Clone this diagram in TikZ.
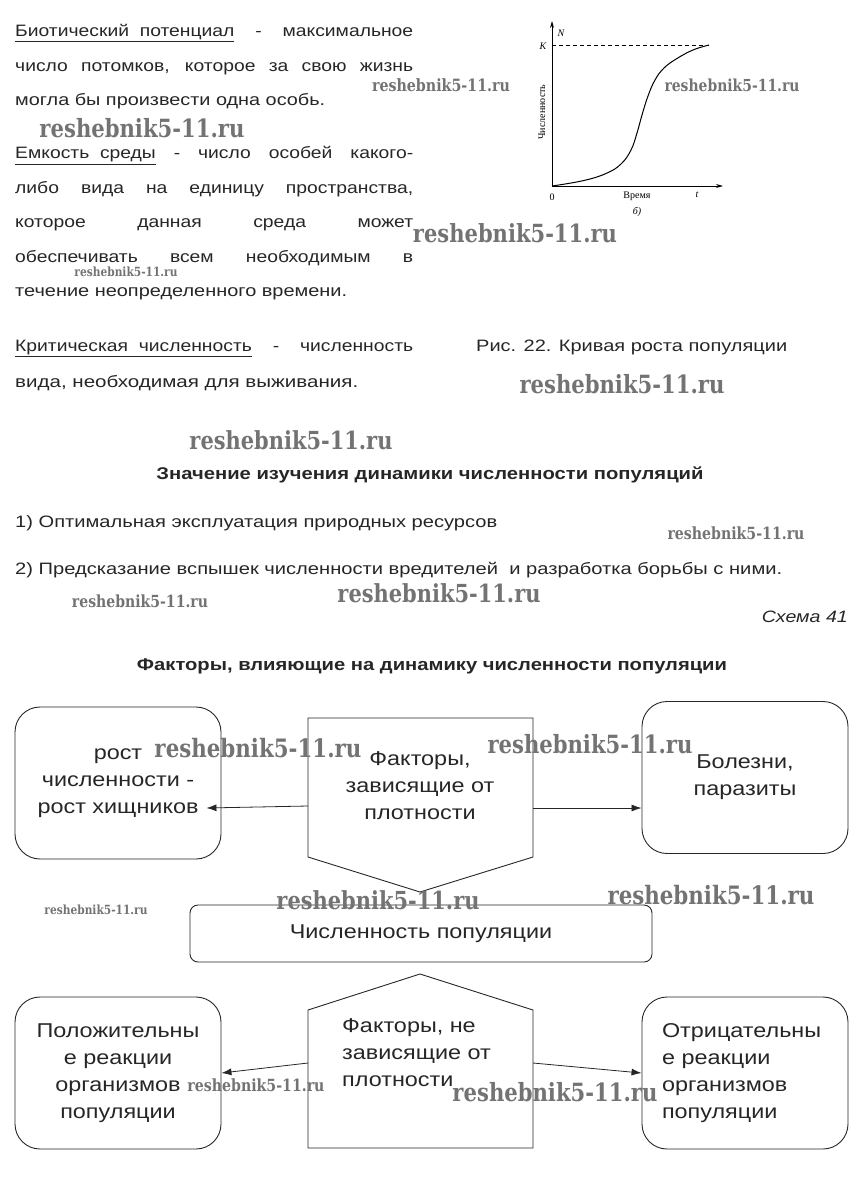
\documentclass[tikz,border=0pt]{standalone}
\usepackage{fontspec}
\setmainfont[FakeStretch=1.17]{Liberation Sans}
\newfontfamily\graphfont{Liberation Serif}
\newfontfamily\wmfont{DejaVu Serif}
\usetikzlibrary{arrows.meta,calc}
\newcommand\fitw[2]{\resizebox{#1}{\height}{#2}}
\newcommand\jline[1]{\makebox[398pt][s]{#1}}
\newcommand\wmk[4]{\node[wm] (#1) at (#2,#3) {\resizebox{#4pt}{\dimexpr #4pt*93/1000\relax}{\wmfont\bfseries reshebnik5-11.ru}};}
\begin{document}
\begin{tikzpicture}[x=1pt,y=-1pt,
  txt/.style={anchor=base west, inner sep=0pt, text=black!85, font=\fontsize{16.5}{20}\selectfont},
  boxt/.style={draw=black!85, line width=0.9pt, rounded corners=25pt, minimum width=206pt, minimum height=152pt, align=center, text=black!85, font=\fontsize{20}{27}\selectfont},
  midbox/.style={draw=black!85, line width=0.9pt, rounded corners=8pt, minimum width=462pt, minimum height=57pt, text=black!85, font=\fontsize{20}{24}\selectfont},
  pent/.style={draw=black!85, line width=0.9pt},
  ptext/.style={text=black!85, font=\fontsize{20}{27}\selectfont, inner sep=0pt},
  arr/.style={-{Latex[length=10pt,width=7pt]}, line width=0.8pt, black!85},
  wm/.style={inner sep=0pt, text=black!55},
  glbl/.style={inner sep=0pt, font=\graphfont\fontsize{10}{11}\selectfont},
  gital/.style={glbl, font=\graphfont\itshape\fontsize{10}{11}\selectfont},
  axis/.style={line width=0.9pt, -{Stealth[length=7pt,width=4pt]}}
]
\useasboundingbox (0,0) rectangle (858,1198);
% ---------- definitions text ----------
\node[txt] (t1) at (15,37) {\jline{\underline{Биотический\ \ потенциал} - максимальное}};
\node[txt] (t2) at (15,71.5) {\jline{число потомков, которое за свою жизнь}};
\node[txt] (t3) at (15,106) {\fitw{310pt}{могла бы произвести одна особь.}};
\node[txt] (t4) at (15,159) {\jline{\underline{Емкость\ \ среды} - число особей какого-}};
\node[txt] (t5) at (15,193.4) {\jline{либо вида на единицу пространства,}};
\node[txt] (t6) at (15,227.8) {\jline{которое данная среда может}};
\node[txt] (t7) at (15,262.2) {\jline{обеспечивать всем необходимым в}};
\node[txt] (t8) at (15,296.6) {\fitw{332pt}{течение неопределенного времени.}};
\node[txt] (t9) at (15,351.5) {\jline{\underline{Критическая\ \ численность} - численность}};
\node[txt] (t10) at (15,387.5) {\fitw{343pt}{вида, необходимая для выживания.}};
\node[txt] (cap) at (476,351.5) {\fitw{311pt}{Рис. 22. Кривая роста популяции}};
% ---------- graph ----------
\coordinate (gO) at (552,186);
\coordinate (gY) at (552,21);
\coordinate (gX) at (723,186);
\coordinate (gK) at (552,45);
\coordinate (gKe) at (709,45);
\draw[axis] (gO) -- (gY);
\draw[axis] (gO) -- (gX);
\draw[line width=0.8pt, dash pattern=on 4pt off 3pt] (gK) -- (gKe);
\draw[line width=1pt] plot[smooth, tension=0.7] coordinates {(552,186) (583,180.7) (606,173.5) (621,164) (631,150) (637,133) (642,115) (648,96) (655,80) (664,68) (677,58.5) (693,50) (709,45)};
\node[gital] (gN) at (561,33) {N};
\node[gital] (gKl) at (543,46) {K};
\node[glbl] (g0) at (552,197) {0};
\node[glbl] (gT) at (637,196) {Время};
\node[gital] (gt) at (697,195) {t};
\node[gital] (gb) at (637,212) {б)};
\node[glbl, rotate=90] (gC) at (542,112) {Численность};
% ---------- middle text ----------
\node[txt, font=\bfseries\fontsize{17}{20}\selectfont, anchor=base] (h1) at (430,479) {\fitw{547pt}{Значение изучения динамики численности популяций}};
\node[txt] (l1) at (15,527) {\fitw{482pt}{1) Оптимальная эксплуатация природных ресурсов}};
\node[txt] (l2) at (15,574) {\fitw{767pt}{2) Предсказание вспышек численности вредителей\ \ и разработка борьбы с ними.}};
\node[txt, anchor=base east] (sch) at (848,622) {\fitw{86pt}{\itshape Схема 41}};
\node[txt, font=\bfseries\fontsize{17}{20}\selectfont, anchor=base] (h2) at (432,670) {\fitw{590pt}{Факторы, влияющие на динамику численности популяции}};
% ---------- scheme ----------
\node[boxt] (tl) at (118,783) {рост\\численности -\\рост хищников};
\node[boxt] (tr) at (745,777.5) {Болезни,\\паразиты};
\draw[pent] (308,718) coordinate (p1a) -- (533,718) coordinate (p1b) -- (533,857) -- (420,892) coordinate (p1tip) -- (308,857) -- cycle;
\node[ptext, align=center] (p1t) at (420,786) {Факторы,\\зависящие от\\плотности};
\coordinate (p1L) at (308,806);
\coordinate (p1R) at (533,808);
\draw[arr] (p1L) -- ($(tl.east)+(-15,25)$);
\draw[arr] (p1R) -- (p1R -| tr.west);
\node[midbox] (mid) at (421,933.5) {Численность популяции};
\draw[pent] (420,974) coordinate (p2tip) -- (533,1010) -- (533,1148) -- (308,1148) -- (308,1010) -- cycle;
\node[ptext, align=left, anchor=west] (p2t) at (342,1053) {Факторы, не\\зависящие от\\плотности};
\node[boxt] (bl) at (118,1073) {Положительны\\е реакции\\организмов\\популяции};
\node[boxt, align=left, text width=166pt, inner xsep=20pt] (br) at (745,1073) {Отрицательны\\е реакции\\организмов\\популяции};
\coordinate (p2L) at (308,1063);
\coordinate (p2R) at (533,1063);
\draw[arr] (p2L) -- (bl.east);
\draw[arr] (p2R) -- (br.west);
% ---------- watermarks ----------
\wmk{w1}{441}{85}{138}
\wmk{w2}{732}{85}{135}
\wmk{w3}{142}{128}{205}
\wmk{w4}{515}{233}{204}
\wmk{w5}{126}{272}{103}
\wmk{w6}{622}{384}{205}
\wmk{w7}{291}{440}{203}
\wmk{w8}{736}{533}{137}
\wmk{w9}{140}{601}{136}
\wmk{w10}{439}{593}{203}
\wmk{w11}{258}{748}{207}
\wmk{w12}{590}{744}{205}
\wmk{w13}{378}{900}{203}
\wmk{w14}{711}{895}{207}
\wmk{w15}{96}{910}{103}
\wmk{w16}{256}{1085}{137}
\wmk{w17}{555}{1092}{205}
\end{tikzpicture}
\end{document}
